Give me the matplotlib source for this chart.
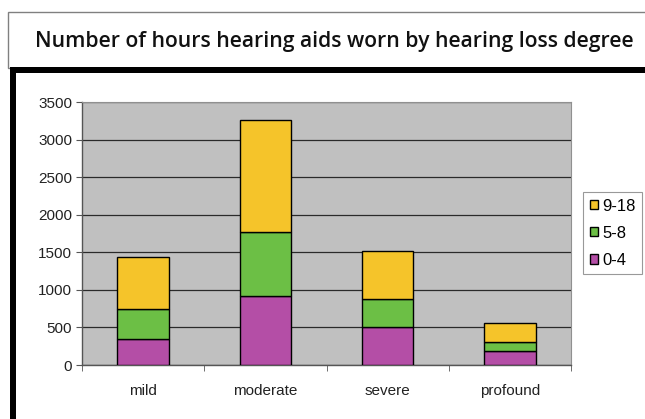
"""Stacked bars: hours hearing aids worn, split by hearing loss degree."""
import matplotlib
matplotlib.use("Agg")
import matplotlib.pyplot as plt
from matplotlib.patches import Rectangle

categories = ["mild", "moderate", "severe", "profound"]
hours_0_4 = [340, 920, 510, 190]
hours_5_8 = [400, 850, 365, 110]
hours_9_18 = [700, 1495, 645, 265]
series_labels = ["0-4", "5-8", "9-18"]
y_ticks = [0, 500, 1000, 1500, 2000, 2500, 3000, 3500]

COLORS = ["#b44ea6", "#6cbf45", "#f5c42a"]
PLOT_BG = "#c0c0c0"

W, H = 645, 419
fig = plt.figure(figsize=(W / 100, H / 100), dpi=100)
fig.patch.set_facecolor("white")


def px_box(x0, y0, x1, y1):
    """pixel box (top-left origin) -> figure fraction rect."""
    return (x0 / W, 1 - y1 / H, (x1 - x0) / W, (y1 - y0) / H)


# title box + black frame round the chart
tb = px_box(8, 12, 646, 68)
fig.add_artist(Rectangle(tb[:2], tb[2], tb[3], transform=fig.transFigure,
                         facecolor="white", edgecolor="#808080", linewidth=1.0))
bar_top = px_box(10, 67, 645, 73)
fig.add_artist(Rectangle(bar_top[:2], bar_top[2], bar_top[3], transform=fig.transFigure,
                         facecolor="black", edgecolor="none"))
bar_left = px_box(10, 67, 16, 419)
fig.add_artist(Rectangle(bar_left[:2], bar_left[2], bar_left[3], transform=fig.transFigure,
                         facecolor="black", edgecolor="none"))

fig.text(334 / W, 1 - 42 / H, "Number of hours hearing aids worn by hearing loss degree",
         ha="center", va="center", fontsize=15.2, fontweight="semibold",
         family=["Open Sans", "DejaVu Sans"], color="#111111")

ax = fig.add_axes(px_box(82, 102, 571, 365))
ax.set_facecolor(PLOT_BG)

x = range(len(categories))
width = 0.42
bottom = [0] * len(categories)
handles = []
for vals, label, color in zip([hours_0_4, hours_5_8, hours_9_18], series_labels, COLORS):
    h = ax.bar(x, vals, width, bottom=bottom, color=color, edgecolor="black",
               linewidth=1.0, label=label, zorder=3)
    handles.append(h)
    bottom = [b + v for b, v in zip(bottom, vals)]

ax.set_xlim(-0.5, len(categories) - 0.5)
ax.set_ylim(0, 3500)
ax.set_yticks(y_ticks)
ax.set_yticklabels([str(t) for t in y_ticks])
ax.yaxis.grid(True, color="#2a2a2a", linewidth=0.9, zorder=1)
ax.set_axisbelow(True)

ax.set_xticks(list(x))
ax.set_xticklabels(categories)
ax.tick_params(axis="x", length=0, pad=14)
ax.set_xticks([i + 0.5 for i in range(-1, len(categories))], minor=True)
ax.tick_params(axis="x", which="minor", length=4, color="#555555", direction="out")
ax.tick_params(axis="y", length=4, color="#555555", pad=3)

for lbl in ax.get_xticklabels() + ax.get_yticklabels():
    lbl.set_family(["Liberation Sans", "DejaVu Sans"])
    lbl.set_fontsize(11)
    lbl.set_color("#222222")

for side in ["top", "right"]:
    ax.spines[side].set_color("#909090")
    ax.spines[side].set_linewidth(0.8)
for side in ["left", "bottom"]:
    ax.spines[side].set_color("#555555")
    ax.spines[side].set_linewidth(1.0)

leg = fig.legend(handles[::-1], series_labels[::-1],
                 loc="upper left", bbox_to_anchor=(583 / W, 1 - 192 / H),
                 frameon=True, fancybox=False, handlelength=0.5, handleheight=0.5,
                 handletextpad=0.25, borderpad=0.4, borderaxespad=0, labelspacing=0.72,
                 prop={"family": ["Liberation Sans", "DejaVu Sans"], "size": 12})
leg.get_frame().set_edgecolor("#808080")
leg.get_frame().set_linewidth(0.8)

fig.savefig("out.png", dpi=100)
